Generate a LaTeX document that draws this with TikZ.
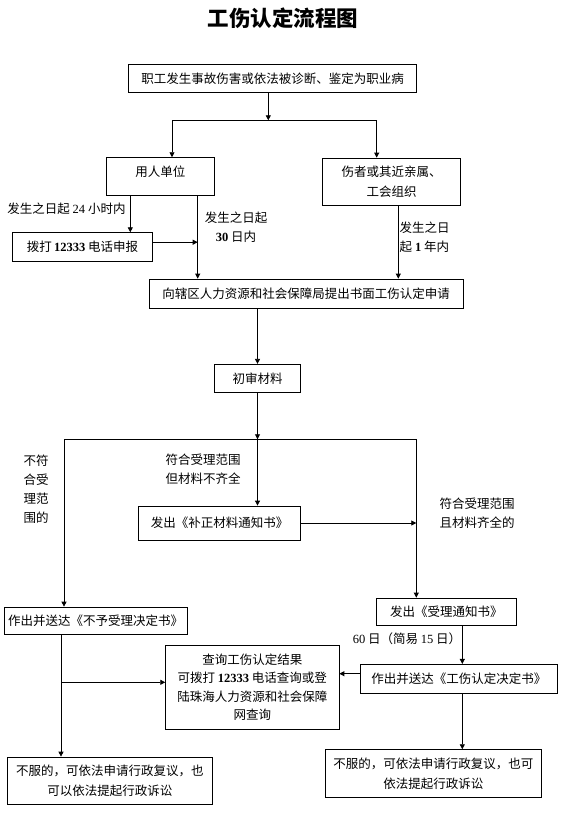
\documentclass[tikz,border=0pt]{standalone}
\usepackage{fontspec}
\setmainfont{Noto Sans CJK SC}
\newfontfamily\tnr{Liberation Serif}
\newcommand{\digits}[1]{{\tnr #1}}
\newcommand{\bdigits}[1]{{\tnr\bfseries #1}}
\usepackage{tikz}
\usetikzlibrary{arrows.meta, positioning}
\tikzstyle{box} = [draw=black, rectangle, inner sep=0, align=center]
\tikzstyle{note} = [inner sep=0, align=center]
\tikzstyle{flow} = [-{Triangle[length=5pt,width=5pt]}]

\begin{document}
\begin{tikzpicture}[x=1pt, y=-1pt, line width=0.8pt, font=\fontsize{12.5}{19}\selectfont]
	\useasboundingbox (0,0) rectangle (560,817);

	\node (Title) [note, font=\fontsize{21.5}{24}\selectfont\bfseries] at (283, 18) {工伤认定流程图};

	% who reports
	\node (Injury) [box, minimum width=287.6, minimum height=28] at (272.5, 78.3) {职工发生事故伤害或依法被诊断、鉴定为职业病};
	\coordinate (Split) at (268.3, 120.3);
	\coordinate (SplitL) at (172, 120.3);
	\coordinate (SplitR) at (376.7, 120.3);
	\draw [flow] (Injury.south -| Split) -- (Split);
	\draw (SplitL) -- (SplitR);

	\node (Unit) [box, minimum width=108, minimum height=37.3, text depth=10pt] at (160.3, 176.3) {用人单位};
	\draw [flow] (SplitL) -- (SplitL |- Unit.north);

	\node (Family) [box, minimum width=138.4, minimum height=47.3] at (391.5, 181.7) {伤者或其近亲属、\\[1pt]工会组织};
	\draw [flow] (SplitR) -- (SplitR |- Family.north);

	\node (Phone) [box, minimum width=140.4, minimum height=29] at (82.5, 247.2) {拨打\,\bdigits{12333} 电话申报};
	\node (PhoneNote) [note] at (66.5, 208.3) {发生之日起 \digits{24} 小时内};
	\draw [flow] ([xshift=-30pt]Unit.south) -- ([xshift=-30pt]Unit.south |- Phone.north);

	\node (Apply) [box, minimum width=313.7, minimum height=29.3] at (306.2, 293.7) {向辖区人力资源和社会保障局提出书面工伤认定申请};
	\coordinate (UnitDrop) at ([xshift=37.4pt]Unit.south);
	\draw [flow] (UnitDrop) -- (UnitDrop |- Apply.north);
	\coordinate (PhoneTap) at ([yshift=5pt]Phone.east);
	\draw [flow] (PhoneTap) -- (PhoneTap -| UnitDrop);
	\node (UnitNote) [note] at (236, 227.3) {发生之日起\\\bdigits{30} 日内};

	\draw [flow] ([xshift=6.8pt]Family.south) -- ([xshift=6.8pt]Family.south |- Apply.north);
	\node (FamilyNote) [note, align=left, anchor=west] at (399.3, 237.2) {发生之日\\起 \bdigits{1} 年内};

	% first check
	\node (Check) [box, minimum width=86.4, minimum height=28] at (257.5, 378.3) {初审材料};
	\draw [flow] (Apply.south -| Check.north) -- (Check.north);

	\coordinate (Branch) at (257.5, 439.3);
	\coordinate (BranchL) at (64, 439.3);
	\coordinate (BranchR) at (416.3, 439.3);
	\draw [flow] (Check.south) -- (Branch);
	\draw (BranchL) -- (BranchR);

	% incomplete material
	\node (Supply) [box, minimum width=162.4, minimum height=34] at (219.5, 523) {发出《补正材料通知书》};
	\draw [flow] (Branch) -- (Branch |- Supply.north);
	\node (SupplyNote) [note] at (203, 469.2) {符合受理范围\\但材料不齐全};
	\draw [flow] (Supply.east) -- (Supply.east -| BranchR);

	% not accepted
	\node (Reject) [box, minimum width=182.7, minimum height=27.3] at (95.7, 620.7) {作出并送达《不予受理决定书》};
	\draw [flow] (BranchL) -- (BranchL |- Reject.north);
	\node (RejectNote) [note] at (36.2, 489.6) {不符\\合受\\理范\\围的};

	% accepted
	\node (Accept) [box, minimum width=140, minimum height=27.3] at (446.3, 611.7) {发出《受理通知书》};
	\draw [flow] (BranchR) -- (BranchR |- Accept.north);
	\node (AcceptNote) [note] at (477.2, 512.8) {符合受理范围\\且材料齐全的};

	\node (Decide) [box, minimum width=196.3, minimum height=28.7] at (458.8, 678.7) {作出并送达《工伤认定决定书》};
	\draw [flow] ([xshift=16pt]Accept.south) -- ([xshift=16pt]Accept.south |- Decide.north);
	\node (DecideNote) [note] at (407, 638.7) {\digits{60} 日（简易 \digits{15} 日）};

	% result query
	\node (Result) [box, minimum width=173.3, minimum height=84] at (252.3, 687.3) {查询工伤认定结果\\[-0.5pt]可拨打 \bdigits{12333} 电话查询或登\\[-0.5pt]陆珠海人力资源和社会保障\\[-0.5pt]网查询};
	\coordinate (RejectTap) at (61, 682.3);
	\draw [flow] (RejectTap) -- (RejectTap -| Result.west);
	\coordinate (DecideTap) at ([yshift=5pt]Decide.west);
	\draw [flow] (DecideTap) -- (DecideTap -| Result.east);

	% appeal
	\node (AppealL) [box, minimum width=205, minimum height=47.3] at (109.8, 780.7) {不服的，可依法申请行政复议，也\\[1pt]可以依法提起行政诉讼};
	\draw [flow] ([xshift=-34.7pt]Reject.south) -- ([xshift=-34.7pt]Reject.south |- AppealL.north);

	\node (AppealR) [box, minimum width=215.3, minimum height=47.3] at (433.3, 773.3) {不服的，可依法申请行政复议，也可\\[1pt]依法提起行政诉讼};
	\draw [flow] ([xshift=3.5pt]Decide.south) -- ([xshift=3.5pt]Decide.south |- AppealR.north);
\end{tikzpicture}
\end{document}
